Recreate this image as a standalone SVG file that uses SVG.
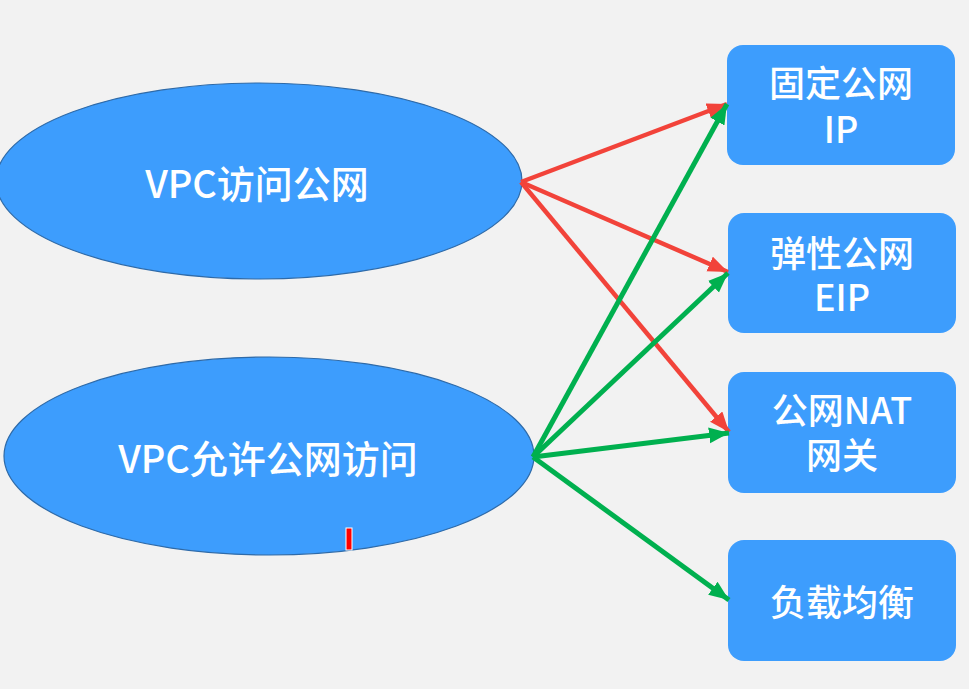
<svg xmlns="http://www.w3.org/2000/svg" width="969" height="689" viewBox="0 0 969 689">
<style>
.ell{fill:#3d9dfd;stroke:#2e6aa8;stroke-width:1.2}
.box{fill:#3d9dfd}
.t{font-family:"Noto Sans CJK SC","Noto Sans",sans-serif;font-weight:500;fill:#ffffff;text-anchor:middle;dominant-baseline:central}
.red{stroke:#f2433a;stroke-width:4.5;fill:none;marker-end:url(#ar)}
.green{stroke:#00b04f;stroke-width:5;fill:none;marker-end:url(#ag)}
</style>
<defs>
<marker id="ar" markerUnits="userSpaceOnUse" markerWidth="22" markerHeight="18" refX="20" refY="8" orient="auto">
<path d="M0,0 L20,8 L0,16 z" fill="#f2433a"/>
</marker>
<marker id="ag" markerUnits="userSpaceOnUse" markerWidth="22" markerHeight="18" refX="20" refY="8" orient="auto">
<path d="M0,0 L20,8 L0,16 z" fill="#00b04f"/>
</marker>
</defs>
<rect x="0" y="0" width="969" height="689" fill="#f2f2f2"/>
<g id="vpc-access">
<ellipse class="ell" cx="259" cy="181" rx="263" ry="98"/>
<text class="t" x="257" y="181" font-size="38">VPC访问公网</text>
</g>
<g id="vpc-allow">
<ellipse class="ell" cx="269" cy="456" rx="265" ry="99"/>
<text class="t" x="268" y="456" font-size="38">VPC允许公网访问</text>
</g>
<g id="fixed-ip">
<rect class="box" x="727" y="45" width="228" height="120" rx="16"/>
<text class="t" x="841" y="81" font-size="36">固定公网</text>
<text class="t" x="841" y="127" font-size="36">IP</text>
</g>
<g id="eip">
<rect class="box" x="728" y="213" width="228" height="120" rx="16"/>
<text class="t" x="842" y="251" font-size="36">弹性公网</text>
<text class="t" x="842" y="295" font-size="36">EIP</text>
</g>
<g id="nat">
<rect class="box" x="728" y="372" width="228" height="121" rx="16"/>
<text class="t" x="842" y="408" font-size="36">公网NAT</text>
<text class="t" x="842" y="453" font-size="36">网关</text>
</g>
<g id="lb">
<rect class="box" x="728" y="540" width="228" height="121" rx="16"/>
<text class="t" x="842" y="600" font-size="36">负载均衡</text>
</g>
<g id="connectors">
<line class="red" x1="521" y1="182" x2="727" y2="104"/>
<line class="red" x1="521" y1="182" x2="728" y2="272"/>
<line class="red" x1="521" y1="182" x2="729" y2="432"/>
<line class="green" x1="533" y1="457" x2="727" y2="104"/>
<line class="green" x1="533" y1="457" x2="728" y2="273"/>
<line class="green" x1="533" y1="457" x2="729" y2="433"/>
<line class="green" x1="533" y1="457" x2="729" y2="600"/>
</g>
<rect x="346" y="528" width="6" height="22" fill="#ff0000" stroke="#ffffff" stroke-width="1"/>
</svg>
